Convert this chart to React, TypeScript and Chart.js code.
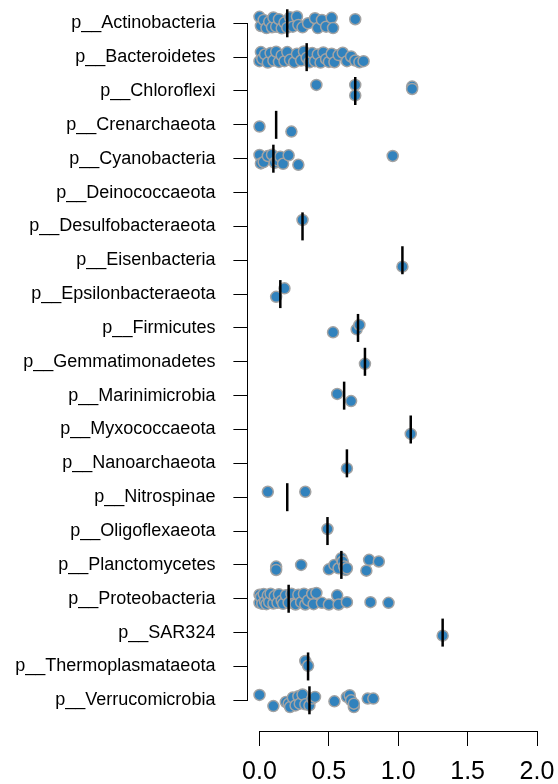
import React, { useEffect, useRef } from "react";
import { Chart, registerables } from "chart.js";

Chart.register(...registerables);

const categories = [
  "p__Actinobacteria", "p__Bacteroidetes", "p__Chloroflexi", "p__Crenarchaeota",
  "p__Cyanobacteria", "p__Deinococcaeota", "p__Desulfobacteraeota", "p__Eisenbacteria",
  "p__Epsilonbacteraeota", "p__Firmicutes", "p__Gemmatimonadetes", "p__Marinimicrobia",
  "p__Myxococcaeota", "p__Nanoarchaeota", "p__Nitrospinae", "p__Oligoflexaeota",
  "p__Planctomycetes", "p__Proteobacteria", "p__SAR324", "p__Thermoplasmataeota",
  "p__Verrucomicrobia",
];

const xTicks = [0, 0.5, 1, 1.5, 2];

// values per phylum, with the vertical jitter (in category units)
const actinoVals = [0.00, 0.01, 0.03, 0.05, 0.07, 0.09, 0.10, 0.12, 0.14, 0.16, 0.18, 0.20, 0.22, 0.24, 0.27, 0.28, 0.31, 0.35, 0.40, 0.42, 0.45, 0.48, 0.52, 0.53, 0.69];
const actinoJit = [-0.19, 0.08, -0.1, 0.14, -0.05, 0.12, -0.17, 0.1, -0.12, 0.15, -0.02, 0.13, -0.18, 0.1, -0.2, 0.05, 0.12, 0.0, -0.15, 0.14, -0.1, 0.1, -0.16, 0.14, -0.12];
const bactVals = [0.00, 0.01, 0.02, 0.04, 0.06, 0.08, 0.10, 0.12, 0.14, 0.16, 0.18, 0.20, 0.22, 0.25, 0.27, 0.30, 0.32, 0.34, 0.36, 0.38, 0.40, 0.42, 0.44, 0.46, 0.48, 0.50, 0.52, 0.54, 0.57, 0.60, 0.63, 0.66, 0.69, 0.72, 0.75];
const bactJit = [0.12, -0.15, 0.05, -0.08, 0.16, -0.12, 0.1, -0.16, 0.14, -0.05, 0.12, -0.15, 0.08, 0.15, -0.1, 0.1, -0.17, 0.02, 0.15, -0.12, 0.12, -0.08, 0.16, -0.14, 0.06, 0.14, -0.1, 0.15, -0.06, -0.13, 0.12, -0.02, 0.1, 0.15, 0.12];
const chloroVals = [0.41, 0.69, 0.69, 1.10, 1.10];
const chloroJit = [-0.18, -0.18, 0.13, -0.13, -0.06];
const crenVals = [0.00, 0.23];
const crenJit = [0.05, 0.2];
const cyanoVals = [0.00, 0.01, 0.03, 0.06, 0.09, 0.11, 0.13, 0.15, 0.17, 0.21, 0.28, 0.96];
const cyanoJit = [-0.11, 0.14, 0.1, -0.08, -0.12, 0.12, 0.05, -0.06, 0.15, -0.1, 0.18, -0.08];
const deinoVals: number[] = [];
const deinoJit: number[] = [];
const desulfoVals = [0.31];
const desulfoJit = [-0.19];
const eisenVals = [1.03];
const eisenJit = [0.19];
const epsilonVals = [0.12, 0.18];
const epsilonJit = [0.08, -0.17];
const firmVals = [0.53, 0.70, 0.72];
const firmJit = [0.13, 0.04, -0.09];
const gemmaVals = [0.76];
const gemmaJit = [0.06];
const marinVals = [0.56, 0.66];
const marinJit = [-0.05, 0.16];
const myxoVals = [1.09];
const myxoJit = [0.13];
const nanoVals = [0.63];
const nanoJit = [0.15];
const nitroVals = [0.06, 0.33];
const nitroJit = [-0.16, -0.16];
const oligoVals = [0.49];
const oligoJit = [-0.06];
const planctoVals = [0.12, 0.12, 0.30, 0.50, 0.54, 0.57, 0.59, 0.60, 0.61, 0.62, 0.63, 0.77, 0.79, 0.86];
const planctoJit = [0.05, 0.15, 0.0, 0.13, 0.0, 0.1, -0.2, -0.1, 0.05, 0.15, 0.1, 0.17, -0.15, -0.1];
const proteoVals = [0.00, 0.00, 0.01, 0.02, 0.03, 0.04, 0.05, 0.06, 0.07, 0.08, 0.10, 0.11, 0.13, 0.14, 0.16, 0.17, 0.19, 0.21, 0.23, 0.25, 0.26, 0.28, 0.30, 0.32, 0.33, 0.35, 0.38, 0.39, 0.41, 0.45, 0.50, 0.56, 0.57, 0.63, 0.80, 0.93];
const proteoJit = [-0.12, 0.12, -0.05, 0.15, -0.14, 0.08, 0.16, -0.1, 0.1, -0.15, 0.14, -0.08, 0.12, -0.13, 0.06, 0.15, -0.1, 0.12, -0.15, 0.14, 0.17, -0.12, 0.1, -0.15, 0.17, 0.05, -0.14, 0.16, -0.17, 0.12, 0.17, -0.1, 0.17, 0.1, 0.1, 0.12];
const sarVals = [1.32];
const sarJit = [0.09];
const thermoVals = [0.33, 0.35];
const thermoJit = [-0.16, -0.02];
const verrucoVals = [0.00, 0.10, 0.19, 0.21, 0.22, 0.24, 0.26, 0.28, 0.29, 0.31, 0.33, 0.36, 0.38, 0.40, 0.54, 0.63, 0.65, 0.66, 0.68, 0.68, 0.78, 0.82];
const verrucoJit = [-0.16, 0.17, 0.05, 0.1, 0.2, -0.08, 0.15, -0.12, 0.1, -0.17, 0.12, 0.15, -0.05, -0.1, 0.03, -0.1, -0.15, 0.0, 0.2, 0.1, -0.05, -0.05];

const medians = [0.20, 0.34, 0.69, 0.12, 0.10, null, 0.31, 1.03, 0.15, 0.71, 0.76, 0.61, 1.09, 0.63, 0.20, 0.49, 0.59, 0.21, 1.32, 0.35, 0.36];

const groupVals = [actinoVals, bactVals, chloroVals, crenVals, cyanoVals, deinoVals, desulfoVals, eisenVals, epsilonVals, firmVals, gemmaVals, marinVals, myxoVals, nanoVals, nitroVals, oligoVals, planctoVals, proteoVals, sarVals, thermoVals, verrucoVals];
const groupJit = [actinoJit, bactJit, chloroJit, crenJit, cyanoJit, deinoJit, desulfoJit, eisenJit, epsilonJit, firmJit, gemmaJit, marinJit, myxoJit, nanoJit, nitroJit, oligoJit, planctoJit, proteoJit, sarJit, thermoJit, verrucoJit];

const FONT = "'Liberation Sans', Arial, Helvetica, sans-serif";

const axisLines = {
  id: "axisLines",
  afterDraw(chart: any) {
    const { ctx, chartArea, scales } = chart;
    const x = scales.x;
    const y = scales.y;
    ctx.save();
    ctx.strokeStyle = "#000";
    ctx.lineWidth = 1;
    ctx.beginPath();
    const ly = Math.round(chartArea.bottom) + 0.5;
    ctx.moveTo(x.getPixelForValue(xTicks[0]), ly);
    ctx.lineTo(x.getPixelForValue(xTicks[xTicks.length - 1]), ly);
    const lx = Math.round(chartArea.left) - 0.5;
    ctx.moveTo(lx, y.getPixelForValue(0));
    ctx.lineTo(lx, y.getPixelForValue(categories.length - 1));
    ctx.stroke();
    ctx.restore();
  },
};

export default function App() {
  const ref = useRef<HTMLCanvasElement>(null);
  useEffect(() => {
    if (!ref.current) return;
    const points: { x: number; y: number }[] = [];
    groupVals.forEach((vals, i) => {
      vals.forEach((v, j) => points.push({ x: v, y: i + groupJit[i][j] }));
    });
    const medPts: { x: number; y: number }[] = [];
    medians.forEach((m, i) => {
      if (m !== null) medPts.push({ x: m, y: i });
    });
    const chart = new Chart(ref.current, {
      type: "scatter",
      data: {
        datasets: [
          {
            label: "median",
            data: medPts,
            pointStyle: "line",
            rotation: 90,
            pointRadius: 14,
            borderColor: "#000",
            backgroundColor: "#000",
            borderWidth: 2.5,
            clip: false,
          } as any,
          {
            label: "values",
            data: points,
            pointStyle: "circle",
            pointRadius: 5.5,
            backgroundColor: "#3182bd",
            borderColor: "#a3a3a3",
            borderWidth: 1.5,
            clip: false,
          } as any,
        ],
      },
      options: {
        responsive: false,
        animation: false,
        events: [],
        layout: { autoPadding: false, padding: { left: 0, right: 9.9, top: 0, bottom: 0 } },
        plugins: { legend: { display: false }, tooltip: { enabled: false } },
        scales: {
          x: {
            type: "linear",
            min: -0.08,
            max: 2.08,
            afterBuildTicks: (scale: any) => {
              scale.ticks = xTicks.map((v) => ({ value: v }));
            },
            afterFit: (scale: any) => {
              scale.height = 53;
              scale.paddingLeft = 0;
              scale.paddingRight = 0;
              scale.paddingTop = 0;
              scale.paddingBottom = 0;
            },
            grid: { display: true, drawOnChartArea: false, drawTicks: true, tickLength: 15, color: "#000", lineWidth: 1 },
            border: { display: false },
            ticks: {
              autoSkip: false,
              maxRotation: 0,
              padding: 14,
              color: "#000",
              font: { family: FONT, size: 25, lineHeight: 1.0 },
              callback: (v: any) => Number(v).toFixed(1),
            },
          },
          y: {
            type: "linear",
            reverse: true,
            min: -0.688,
            max: 20.907,
            afterBuildTicks: (scale: any) => {
              scale.ticks = categories.map((_, i) => ({ value: i }));
            },
            afterFit: (scale: any) => {
              scale.width = 248.4;
              scale.paddingTop = 0;
              scale.paddingBottom = 0;
              scale.paddingLeft = 0;
              scale.paddingRight = 0;
            },
            grid: { display: true, drawOnChartArea: false, drawTicks: true, tickLength: 15, color: "#000", lineWidth: 1 },
            border: { display: false },
            ticks: {
              autoSkip: false,
              padding: 18,
              color: "#000",
              font: { family: FONT, size: 18 },
              callback: (v: any) => categories[Number(v)] ?? "",
            },
          },
        },
      },
      plugins: [axisLines],
    });
    return () => chart.destroy();
  }, []);
  return (
    <div style={{ position: "absolute", left: 0, top: 0, width: 558, height: 784, background: "#fff" }}>
      <canvas ref={ref} width={558} height={784} style={{ display: "block" }} />
    </div>
  );
}
